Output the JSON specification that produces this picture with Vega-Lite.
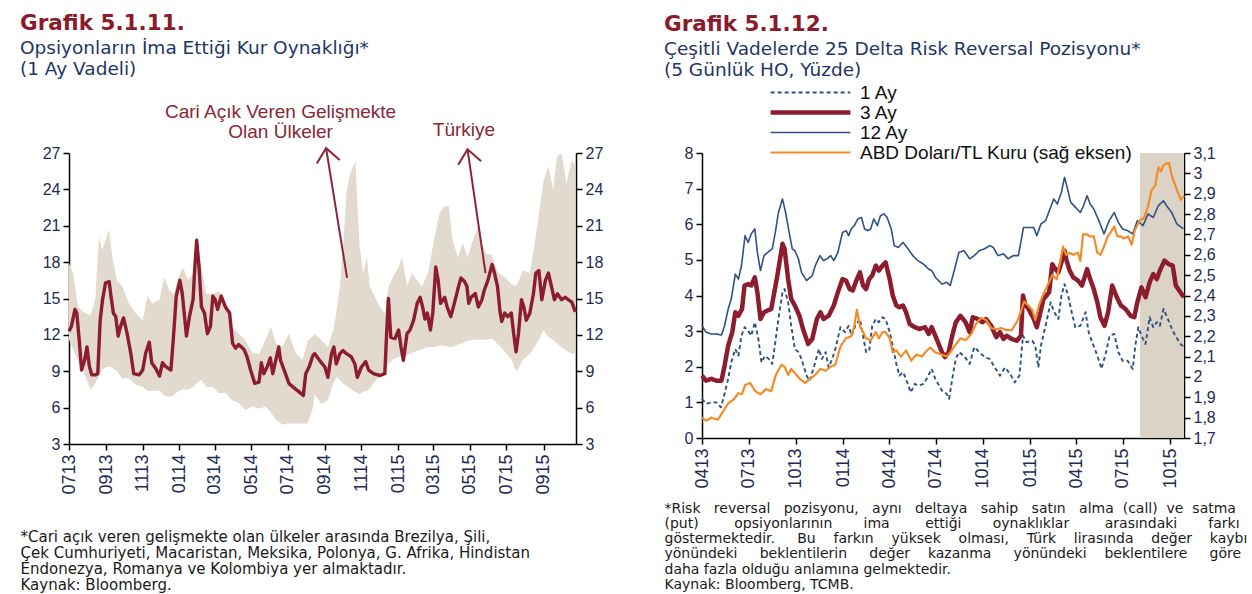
{
"$schema": "https://vega.github.io/schema/vega-lite/v6.json",
"background": "white",
"padding": {"left": 20, "top": 13, "right": 0, "bottom": 0},
"spacing": 61,
"resolve": {"legend": {"color": "independent", "strokeDash": "independent", "strokeWidth": "independent"}},
"config": {
 "view": {"stroke": null},
 "axis": {"grid": false, "domainColor": "#000000", "domainWidth": 1.5, "tickColor": "#000000", "tickWidth": 1.5, "tickSize": 6, "labelColor": "#1f2a55", "labelFont": "Liberation Sans", "labelFontSize": 16, "labelPadding": 3},
 "title": {"anchor": "start", "frame": "bounds", "font": "DejaVu Sans", "fontSize": 21.5, "fontWeight": "bold", "color": "#8B1A2B", "subtitleFont": "DejaVu Sans", "subtitleFontSize": 18.5, "subtitleColor": "#1f3566", "subtitlePadding": 4, "subtitleLineHeight": 21}
},
"datasets": {
 "band": [
  {"d":"2013-07-01","lo":11.6,"hi":17.9},{"d":"2013-07-08","lo":10.8,"hi":17.1},{"d":"2013-07-16","lo":9.9,"hi":14.3},{"d":"2013-07-27","lo":8.8,"hi":13.8},
  {"d":"2013-08-06","lo":7.5,"hi":13.6},{"d":"2013-08-14","lo":8.0,"hi":15.0},{"d":"2013-08-20","lo":8.6,"hi":20.1},{"d":"2013-08-25","lo":9.1,"hi":19.0},
  {"d":"2013-08-31","lo":9.3,"hi":19.8},{"d":"2013-09-06","lo":9.4,"hi":20.7},{"d":"2013-09-11","lo":9.3,"hi":18.5},{"d":"2013-09-19","lo":9.0,"hi":16.5},
  {"d":"2013-09-28","lo":8.4,"hi":16.0},{"d":"2013-10-09","lo":8.4,"hi":14.6},{"d":"2013-10-20","lo":7.9,"hi":13.8},{"d":"2013-11-01","lo":7.7,"hi":13.2},
  {"d":"2013-11-09","lo":7.4,"hi":15.2},{"d":"2013-11-17","lo":7.4,"hi":14.6},{"d":"2013-11-29","lo":7.4,"hi":14.9},{"d":"2013-12-07","lo":7.0,"hi":16.8},
  {"d":"2013-12-15","lo":6.9,"hi":15.7},{"d":"2013-12-23","lo":7.0,"hi":15.4},{"d":"2013-12-29","lo":7.3,"hi":16.5},{"d":"2014-01-07","lo":7.5,"hi":17.6},
  {"d":"2014-01-16","lo":7.5,"hi":16.5},{"d":"2014-01-24","lo":7.7,"hi":17.1},{"d":"2014-01-30","lo":8.0,"hi":20.3},{"d":"2014-02-07","lo":8.3,"hi":17.6},
  {"d":"2014-02-15","lo":7.7,"hi":15.4},{"d":"2014-02-25","lo":7.7,"hi":15.4},{"d":"2014-03-08","lo":7.2,"hi":15.6},{"d":"2014-03-19","lo":7.2,"hi":14.6},
  {"d":"2014-03-30","lo":6.6,"hi":12.7},{"d":"2014-04-10","lo":6.4,"hi":12.1},{"d":"2014-04-21","lo":5.8,"hi":11.6},{"d":"2014-05-03","lo":6.1,"hi":10.5},
  {"d":"2014-05-14","lo":5.9,"hi":10.4},{"d":"2014-05-25","lo":6.1,"hi":11.6},{"d":"2014-06-03","lo":5.6,"hi":12.7},{"d":"2014-06-11","lo":5.0,"hi":11.3},
  {"d":"2014-06-22","lo":4.6,"hi":11.0},{"d":"2014-07-03","lo":4.7,"hi":12.1},{"d":"2014-07-14","lo":4.7,"hi":10.5},{"d":"2014-07-26","lo":4.7,"hi":9.9},
  {"d":"2014-08-03","lo":4.7,"hi":11.5},{"d":"2014-08-12","lo":6.0,"hi":11.9},{"d":"2014-08-15","lo":7.1,"hi":12.1},{"d":"2014-08-26","lo":6.3,"hi":11.6},
  {"d":"2014-09-06","lo":6.6,"hi":11.0},{"d":"2014-09-15","lo":8.0,"hi":12.4},{"d":"2014-09-20","lo":8.5,"hi":13.8},{"d":"2014-09-26","lo":8.3,"hi":16.0},
  {"d":"2014-10-01","lo":8.0,"hi":19.0},{"d":"2014-10-07","lo":7.8,"hi":23.7},{"d":"2014-10-12","lo":7.6,"hi":25.1},{"d":"2014-10-18","lo":7.4,"hi":25.9},
  {"d":"2014-10-22","lo":7.3,"hi":26.3},{"d":"2014-10-25","lo":7.2,"hi":23.1},{"d":"2014-10-29","lo":7.1,"hi":19.3},{"d":"2014-11-04","lo":7.3,"hi":17.1},
  {"d":"2014-11-10","lo":7.4,"hi":18.4},{"d":"2014-11-15","lo":7.6,"hi":16.0},{"d":"2014-11-21","lo":8.0,"hi":15.4},{"d":"2014-11-26","lo":8.3,"hi":14.9},
  {"d":"2014-12-02","lo":8.5,"hi":14.3},{"d":"2014-12-10","lo":9.1,"hi":13.8},{"d":"2014-12-16","lo":9.6,"hi":16.0},{"d":"2014-12-24","lo":10.0,"hi":16.8},
  {"d":"2015-01-02","lo":10.2,"hi":17.6},{"d":"2015-01-08","lo":10.2,"hi":18.4},{"d":"2015-01-16","lo":10.3,"hi":16.0},{"d":"2015-01-24","lo":10.5,"hi":17.1},
  {"d":"2015-02-02","lo":10.7,"hi":16.5},{"d":"2015-02-10","lo":10.8,"hi":16.0},{"d":"2015-02-20","lo":11.0,"hi":17.1},{"d":"2015-03-02","lo":11.0,"hi":19.8},
  {"d":"2015-03-11","lo":11.1,"hi":22.0},{"d":"2015-03-19","lo":11.1,"hi":22.6},{"d":"2015-03-27","lo":11.0,"hi":22.6},{"d":"2015-04-02","lo":11.0,"hi":19.8},
  {"d":"2015-04-11","lo":11.2,"hi":18.4},{"d":"2015-04-19","lo":11.3,"hi":19.6},{"d":"2015-04-27","lo":11.5,"hi":18.4},{"d":"2015-05-06","lo":11.6,"hi":19.8},
  {"d":"2015-05-14","lo":11.6,"hi":20.9},{"d":"2015-05-20","lo":11.6,"hi":19.6},{"d":"2015-05-28","lo":11.6,"hi":18.7},{"d":"2015-06-06","lo":11.7,"hi":18.6},
  {"d":"2015-06-17","lo":11.2,"hi":17.1},{"d":"2015-06-28","lo":10.6,"hi":16.8},{"d":"2015-07-09","lo":10.0,"hi":16.2},{"d":"2015-07-17","lo":9.0,"hi":16.0},
  {"d":"2015-07-22","lo":9.3,"hi":16.5},{"d":"2015-07-28","lo":9.9,"hi":17.3},{"d":"2015-08-09","lo":10.45,"hi":17.1},{"d":"2015-08-17","lo":11.0,"hi":19.6},
  {"d":"2015-08-26","lo":11.8,"hi":22.6},{"d":"2015-09-01","lo":12.4,"hi":24.8},{"d":"2015-09-09","lo":11.8,"hi":25.9},{"d":"2015-09-17","lo":11.6,"hi":24.0},
  {"d":"2015-09-23","lo":11.3,"hi":26.7},{"d":"2015-10-01","lo":11.0,"hi":27.0},{"d":"2015-10-09","lo":10.7,"hi":24.5},{"d":"2015-10-18","lo":10.45,"hi":26.4},
  {"d":"2015-10-24","lo":10.45,"hi":25.9}
 ],
 "tr": [
  {"d":"2013-07-01","v":12.3},{"d":"2013-07-05","v":12.7},{"d":"2013-07-11","v":14.1},{"d":"2013-07-14","v":13.8},{"d":"2013-07-18","v":11.6},
  {"d":"2013-07-22","v":9.1},{"d":"2013-07-27","v":9.9},{"d":"2013-07-31","v":11.0},{"d":"2013-08-04","v":9.4},{"d":"2013-08-08","v":8.7},
  {"d":"2013-08-14","v":8.7},{"d":"2013-08-18","v":8.8},{"d":"2013-08-22","v":13.2},{"d":"2013-08-26","v":14.9},{"d":"2013-08-31","v":16.3},
  {"d":"2013-09-06","v":16.4},{"d":"2013-09-09","v":15.2},{"d":"2013-09-13","v":13.8},{"d":"2013-09-17","v":13.5},{"d":"2013-09-21","v":11.9},
  {"d":"2013-09-25","v":12.7},{"d":"2013-09-30","v":13.4},{"d":"2013-10-06","v":12.1},{"d":"2013-10-12","v":10.5},{"d":"2013-10-17","v":8.8},
  {"d":"2013-10-26","v":8.7},{"d":"2013-11-01","v":9.1},{"d":"2013-11-06","v":10.5},{"d":"2013-11-12","v":11.4},{"d":"2013-11-16","v":9.7},
  {"d":"2013-11-23","v":9.2},{"d":"2013-11-29","v":8.6},{"d":"2013-12-04","v":9.7},{"d":"2013-12-09","v":9.4},{"d":"2013-12-18","v":9.1},
  {"d":"2013-12-22","v":11.6},{"d":"2013-12-27","v":15.2},{"d":"2014-01-02","v":16.5},{"d":"2014-01-06","v":15.4},{"d":"2014-01-13","v":11.9},
  {"d":"2014-01-18","v":13.5},{"d":"2014-01-24","v":14.9},{"d":"2014-01-27","v":17.6},{"d":"2014-01-30","v":19.8},{"d":"2014-02-03","v":17.6},
  {"d":"2014-02-07","v":14.3},{"d":"2014-02-12","v":13.8},{"d":"2014-02-17","v":12.1},{"d":"2014-02-22","v":12.7},{"d":"2014-02-26","v":15.2},
  {"d":"2014-03-02","v":14.9},{"d":"2014-03-06","v":14.1},{"d":"2014-03-12","v":15.2},{"d":"2014-03-19","v":14.3},{"d":"2014-03-26","v":13.8},
  {"d":"2014-03-31","v":11.3},{"d":"2014-04-05","v":10.9},{"d":"2014-04-10","v":11.2},{"d":"2014-04-19","v":10.8},{"d":"2014-04-24","v":10.2},
  {"d":"2014-04-30","v":9.1},{"d":"2014-05-07","v":8.0},{"d":"2014-05-14","v":8.1},{"d":"2014-05-18","v":9.7},{"d":"2014-05-22","v":8.8},
  {"d":"2014-05-28","v":9.4},{"d":"2014-06-02","v":10.1},{"d":"2014-06-06","v":8.8},{"d":"2014-06-11","v":9.9},{"d":"2014-06-16","v":11.0},
  {"d":"2014-06-19","v":9.9},{"d":"2014-06-25","v":9.1},{"d":"2014-07-03","v":8.0},{"d":"2014-07-12","v":7.6},{"d":"2014-07-20","v":7.3},
  {"d":"2014-07-27","v":7.0},{"d":"2014-07-31","v":8.8},{"d":"2014-08-06","v":9.4},{"d":"2014-08-12","v":10.3},{"d":"2014-08-15","v":10.45},
  {"d":"2014-08-23","v":9.9},{"d":"2014-09-01","v":9.35},{"d":"2014-09-06","v":8.5},{"d":"2014-09-12","v":10.45},{"d":"2014-09-16","v":11.0},
  {"d":"2014-09-20","v":9.6},{"d":"2014-09-26","v":10.45},{"d":"2014-10-01","v":10.7},{"d":"2014-10-07","v":10.45},{"d":"2014-10-15","v":10.2},
  {"d":"2014-10-21","v":9.6},{"d":"2014-10-25","v":8.5},{"d":"2014-11-01","v":9.35},{"d":"2014-11-08","v":9.8},{"d":"2014-11-13","v":9.1},
  {"d":"2014-11-21","v":8.8},{"d":"2014-12-02","v":8.65},{"d":"2014-12-10","v":8.8},{"d":"2014-12-13","v":12.1},{"d":"2014-12-16","v":15.0},
  {"d":"2014-12-20","v":11.8},{"d":"2014-12-27","v":11.7},{"d":"2015-01-02","v":12.4},{"d":"2015-01-06","v":11.0},{"d":"2015-01-10","v":9.9},
  {"d":"2015-01-16","v":12.1},{"d":"2015-01-21","v":12.4},{"d":"2015-01-27","v":13.2},{"d":"2015-02-02","v":14.6},{"d":"2015-02-07","v":15.1},
  {"d":"2015-02-11","v":14.3},{"d":"2015-02-15","v":13.3},{"d":"2015-02-19","v":13.8},{"d":"2015-02-24","v":12.4},{"d":"2015-02-28","v":13.8},
  {"d":"2015-03-05","v":17.6},{"d":"2015-03-09","v":16.5},{"d":"2015-03-13","v":14.6},{"d":"2015-03-20","v":15.1},{"d":"2015-03-24","v":14.3},
  {"d":"2015-03-30","v":13.5},{"d":"2015-04-05","v":14.6},{"d":"2015-04-12","v":16.0},{"d":"2015-04-16","v":16.7},{"d":"2015-04-22","v":16.4},
  {"d":"2015-04-26","v":16.0},{"d":"2015-04-29","v":14.6},{"d":"2015-05-03","v":15.1},{"d":"2015-05-10","v":15.4},{"d":"2015-05-15","v":14.3},
  {"d":"2015-05-21","v":14.9},{"d":"2015-05-25","v":15.7},{"d":"2015-05-31","v":16.5},{"d":"2015-06-07","v":17.8},{"d":"2015-06-11","v":17.1},
  {"d":"2015-06-16","v":16.0},{"d":"2015-06-20","v":14.0},{"d":"2015-06-23","v":13.1},{"d":"2015-06-28","v":13.8},{"d":"2015-07-03","v":13.5},
  {"d":"2015-07-09","v":13.8},{"d":"2015-07-13","v":12.1},{"d":"2015-07-17","v":10.6},{"d":"2015-07-21","v":12.1},{"d":"2015-07-26","v":14.9},
  {"d":"2015-07-30","v":14.3},{"d":"2015-08-03","v":13.2},{"d":"2015-08-09","v":13.8},{"d":"2015-08-15","v":15.4},{"d":"2015-08-19","v":17.1},
  {"d":"2015-08-24","v":17.3},{"d":"2015-08-29","v":14.9},{"d":"2015-09-04","v":16.5},{"d":"2015-09-09","v":17.1},{"d":"2015-09-14","v":16.0},
  {"d":"2015-09-19","v":14.9},{"d":"2015-09-24","v":15.4},{"d":"2015-10-01","v":14.9},{"d":"2015-10-07","v":15.1},{"d":"2015-10-12","v":14.9},
  {"d":"2015-10-18","v":14.7},{"d":"2015-10-24","v":13.9}
 ],
 "notes": [
  {"d":"2014-06-19","y":31.1,"t":["Cari Açık Veren Gelişmekte", "Olan Ülkeler"]},
  {"d":"2015-04-21","y":29.6,"t":"Türkiye"}
 ],
 "arrows": [
  {"d":"2014-09-03","y1":27.4,"d2":"2014-10-08","y2":16.7},
  {"d":"2015-04-27","y1":27.3,"d2":"2015-05-27","y2":17.1}
 ],
 "shade": [{"d":"2015-08-03","e":"2015-10-28"}],
 "rr": [
  {"d":"2013-04-01","s":"12 Ay","v":3.15},{"d":"2013-04-09","s":"12 Ay","v":2.97},{"d":"2013-04-19","s":"12 Ay","v":2.92},{"d":"2013-04-29","s":"12 Ay","v":2.92},
  {"d":"2013-05-09","s":"12 Ay","v":2.89},{"d":"2013-05-15","s":"12 Ay","v":3.15},{"d":"2013-05-22","s":"12 Ay","v":3.62},{"d":"2013-05-28","s":"12 Ay","v":3.9},
  {"d":"2013-06-05","s":"12 Ay","v":4.6},{"d":"2013-06-11","s":"12 Ay","v":4.46},{"d":"2013-06-17","s":"12 Ay","v":4.84},{"d":"2013-06-24","s":"12 Ay","v":5.68},
  {"d":"2013-06-30","s":"12 Ay","v":5.49},{"d":"2013-07-06","s":"12 Ay","v":5.73},{"d":"2013-07-13","s":"12 Ay","v":5.87},{"d":"2013-07-18","s":"12 Ay","v":5.21},
  {"d":"2013-07-24","s":"12 Ay","v":4.7},{"d":"2013-07-31","s":"12 Ay","v":5.12},{"d":"2013-08-07","s":"12 Ay","v":5.21},{"d":"2013-08-16","s":"12 Ay","v":5.31},
  {"d":"2013-08-22","s":"12 Ay","v":5.77},{"d":"2013-08-28","s":"12 Ay","v":6.33},{"d":"2013-09-05","s":"12 Ay","v":6.71},{"d":"2013-09-11","s":"12 Ay","v":6.33},
  {"d":"2013-09-18","s":"12 Ay","v":5.77},{"d":"2013-09-24","s":"12 Ay","v":5.31},{"d":"2013-09-29","s":"12 Ay","v":5.26},{"d":"2013-10-06","s":"12 Ay","v":5.03},
  {"d":"2013-10-12","s":"12 Ay","v":4.65},{"d":"2013-10-22","s":"12 Ay","v":4.42},{"d":"2013-11-02","s":"12 Ay","v":4.56},{"d":"2013-11-08","s":"12 Ay","v":4.84},
  {"d":"2013-11-17","s":"12 Ay","v":5.12},{"d":"2013-11-24","s":"12 Ay","v":4.98},{"d":"2013-12-01","s":"12 Ay","v":5.03},{"d":"2013-12-08","s":"12 Ay","v":5.12},
  {"d":"2013-12-14","s":"12 Ay","v":4.98},{"d":"2013-12-22","s":"12 Ay","v":5.21},{"d":"2013-12-31","s":"12 Ay","v":5.77},{"d":"2014-01-07","s":"12 Ay","v":5.82},
  {"d":"2014-01-12","s":"12 Ay","v":5.68},{"d":"2014-01-17","s":"12 Ay","v":5.87},{"d":"2014-01-23","s":"12 Ay","v":5.96},{"d":"2014-01-30","s":"12 Ay","v":6.15},
  {"d":"2014-02-06","s":"12 Ay","v":6.19},{"d":"2014-02-12","s":"12 Ay","v":5.87},{"d":"2014-02-18","s":"12 Ay","v":5.82},{"d":"2014-02-24","s":"12 Ay","v":5.87},
  {"d":"2014-03-02","s":"12 Ay","v":6.15},{"d":"2014-03-09","s":"12 Ay","v":5.96},{"d":"2014-03-15","s":"12 Ay","v":6.24},{"d":"2014-03-22","s":"12 Ay","v":6.29},
  {"d":"2014-03-28","s":"12 Ay","v":6.19},{"d":"2014-04-05","s":"12 Ay","v":5.87},{"d":"2014-04-11","s":"12 Ay","v":5.4},{"d":"2014-04-19","s":"12 Ay","v":5.35},
  {"d":"2014-04-28","s":"12 Ay","v":5.49},{"d":"2014-05-08","s":"12 Ay","v":5.31},{"d":"2014-05-17","s":"12 Ay","v":5.12},{"d":"2014-05-27","s":"12 Ay","v":4.98},
  {"d":"2014-06-07","s":"12 Ay","v":4.88},{"d":"2014-06-17","s":"12 Ay","v":4.74},{"d":"2014-06-23","s":"12 Ay","v":4.7},{"d":"2014-06-30","s":"12 Ay","v":4.51},
  {"d":"2014-07-13","s":"12 Ay","v":4.32},{"d":"2014-07-22","s":"12 Ay","v":4.37},{"d":"2014-07-29","s":"12 Ay","v":4.28},{"d":"2014-08-05","s":"12 Ay","v":4.65},
  {"d":"2014-08-15","s":"12 Ay","v":5.21},{"d":"2014-08-25","s":"12 Ay","v":5.26},{"d":"2014-09-05","s":"12 Ay","v":5.03},{"d":"2014-09-14","s":"12 Ay","v":5.12},
  {"d":"2014-09-24","s":"12 Ay","v":5.26},{"d":"2014-10-04","s":"12 Ay","v":5.31},{"d":"2014-10-14","s":"12 Ay","v":5.4},{"d":"2014-10-21","s":"12 Ay","v":5.35},
  {"d":"2014-10-30","s":"12 Ay","v":5.12},{"d":"2014-11-10","s":"12 Ay","v":5.17},{"d":"2014-11-19","s":"12 Ay","v":5.03},{"d":"2014-11-29","s":"12 Ay","v":5.12},
  {"d":"2014-12-09","s":"12 Ay","v":5.12},{"d":"2014-12-19","s":"12 Ay","v":5.91},{"d":"2014-12-29","s":"12 Ay","v":5.91},{"d":"2015-01-08","s":"12 Ay","v":5.91},
  {"d":"2015-01-14","s":"12 Ay","v":5.68},{"d":"2015-01-22","s":"12 Ay","v":6.01},{"d":"2015-01-31","s":"12 Ay","v":6.1},{"d":"2015-02-10","s":"12 Ay","v":6.48},
  {"d":"2015-02-16","s":"12 Ay","v":6.71},{"d":"2015-02-23","s":"12 Ay","v":6.57},{"d":"2015-03-03","s":"12 Ay","v":6.9},{"d":"2015-03-09","s":"12 Ay","v":7.32},
  {"d":"2015-03-14","s":"12 Ay","v":7.04},{"d":"2015-03-21","s":"12 Ay","v":6.62},{"d":"2015-03-30","s":"12 Ay","v":6.48},{"d":"2015-04-09","s":"12 Ay","v":6.33},
  {"d":"2015-04-15","s":"12 Ay","v":6.52},{"d":"2015-04-22","s":"12 Ay","v":6.8},{"d":"2015-04-28","s":"12 Ay","v":6.57},{"d":"2015-05-05","s":"12 Ay","v":6.43},
  {"d":"2015-05-15","s":"12 Ay","v":6.1},{"d":"2015-05-25","s":"12 Ay","v":5.73},{"d":"2015-06-04","s":"12 Ay","v":6.1},{"d":"2015-06-14","s":"12 Ay","v":6.33},
  {"d":"2015-06-22","s":"12 Ay","v":6.05},{"d":"2015-06-30","s":"12 Ay","v":5.87},{"d":"2015-07-10","s":"12 Ay","v":5.82},{"d":"2015-07-20","s":"12 Ay","v":5.73},
  {"d":"2015-07-29","s":"12 Ay","v":6.1},{"d":"2015-08-09","s":"12 Ay","v":5.96},{"d":"2015-08-19","s":"12 Ay","v":6.29},{"d":"2015-08-29","s":"12 Ay","v":6.19},
  {"d":"2015-09-08","s":"12 Ay","v":6.52},{"d":"2015-09-18","s":"12 Ay","v":6.66},{"d":"2015-09-24","s":"12 Ay","v":6.52},{"d":"2015-10-04","s":"12 Ay","v":6.33},
  {"d":"2015-10-14","s":"12 Ay","v":6.01},{"d":"2015-10-27","s":"12 Ay","v":5.87},

  {"d":"2013-04-01","s":"1 Ay","v":1.1},{"d":"2013-04-09","s":"1 Ay","v":0.96},{"d":"2013-04-19","s":"1 Ay","v":1.0},{"d":"2013-04-29","s":"1 Ay","v":1.0},
  {"d":"2013-05-08","s":"1 Ay","v":0.86},{"d":"2013-05-15","s":"1 Ay","v":1.24},{"d":"2013-05-22","s":"1 Ay","v":1.66},{"d":"2013-05-28","s":"1 Ay","v":2.12},
  {"d":"2013-06-05","s":"1 Ay","v":2.5},{"d":"2013-06-11","s":"1 Ay","v":2.31},{"d":"2013-06-17","s":"1 Ay","v":2.87},{"d":"2013-06-23","s":"1 Ay","v":3.11},
  {"d":"2013-06-30","s":"1 Ay","v":3.01},{"d":"2013-07-06","s":"1 Ay","v":2.87},{"d":"2013-07-13","s":"1 Ay","v":3.25},{"d":"2013-07-20","s":"1 Ay","v":2.78},
  {"d":"2013-07-26","s":"1 Ay","v":2.12},{"d":"2013-08-02","s":"1 Ay","v":2.31},{"d":"2013-08-09","s":"1 Ay","v":2.22},{"d":"2013-08-16","s":"1 Ay","v":2.08},
  {"d":"2013-08-22","s":"1 Ay","v":2.69},{"d":"2013-08-28","s":"1 Ay","v":3.34},{"d":"2013-09-05","s":"1 Ay","v":4.09},{"d":"2013-09-09","s":"1 Ay","v":4.18},
  {"d":"2013-09-16","s":"1 Ay","v":3.81},{"d":"2013-09-22","s":"1 Ay","v":3.15},{"d":"2013-09-29","s":"1 Ay","v":2.5},{"d":"2013-10-06","s":"1 Ay","v":2.41},
  {"d":"2013-10-12","s":"1 Ay","v":2.22},{"d":"2013-10-22","s":"1 Ay","v":1.75},{"d":"2013-10-28","s":"1 Ay","v":1.61},{"d":"2013-11-06","s":"1 Ay","v":2.03},
  {"d":"2013-11-15","s":"1 Ay","v":2.5},{"d":"2013-11-21","s":"1 Ay","v":2.22},{"d":"2013-11-28","s":"1 Ay","v":2.41},{"d":"2013-12-04","s":"1 Ay","v":1.98},
  {"d":"2013-12-11","s":"1 Ay","v":2.22},{"d":"2013-12-17","s":"1 Ay","v":2.5},{"d":"2013-12-27","s":"1 Ay","v":3.11},{"d":"2014-01-05","s":"1 Ay","v":2.97},
  {"d":"2014-01-12","s":"1 Ay","v":3.15},{"d":"2014-01-18","s":"1 Ay","v":2.87},{"d":"2014-01-25","s":"1 Ay","v":3.15},{"d":"2014-02-03","s":"1 Ay","v":3.34},
  {"d":"2014-02-09","s":"1 Ay","v":2.87},{"d":"2014-02-15","s":"1 Ay","v":2.41},{"d":"2014-02-21","s":"1 Ay","v":2.45},{"d":"2014-02-27","s":"1 Ay","v":3.15},
  {"d":"2014-03-06","s":"1 Ay","v":3.34},{"d":"2014-03-12","s":"1 Ay","v":3.25},{"d":"2014-03-19","s":"1 Ay","v":3.39},{"d":"2014-03-25","s":"1 Ay","v":3.34},
  {"d":"2014-04-02","s":"1 Ay","v":2.97},{"d":"2014-04-08","s":"1 Ay","v":2.59},{"d":"2014-04-15","s":"1 Ay","v":2.08},{"d":"2014-04-21","s":"1 Ay","v":1.75},
  {"d":"2014-04-28","s":"1 Ay","v":1.85},{"d":"2014-05-04","s":"1 Ay","v":1.66},{"d":"2014-05-13","s":"1 Ay","v":1.28},{"d":"2014-05-21","s":"1 Ay","v":1.52},
  {"d":"2014-05-28","s":"1 Ay","v":1.47},{"d":"2014-06-07","s":"1 Ay","v":1.52},{"d":"2014-06-13","s":"1 Ay","v":1.66},{"d":"2014-06-23","s":"1 Ay","v":1.94},
  {"d":"2014-06-30","s":"1 Ay","v":1.66},{"d":"2014-07-13","s":"1 Ay","v":1.33},{"d":"2014-07-22","s":"1 Ay","v":1.24},{"d":"2014-07-27","s":"1 Ay","v":1.1},
  {"d":"2014-08-02","s":"1 Ay","v":1.66},{"d":"2014-08-09","s":"1 Ay","v":2.22},{"d":"2014-08-15","s":"1 Ay","v":2.41},{"d":"2014-08-25","s":"1 Ay","v":2.31},
  {"d":"2014-09-05","s":"1 Ay","v":2.08},{"d":"2014-09-14","s":"1 Ay","v":2.55},{"d":"2014-09-24","s":"1 Ay","v":2.41},{"d":"2014-10-04","s":"1 Ay","v":2.27},
  {"d":"2014-10-14","s":"1 Ay","v":2.22},{"d":"2014-10-24","s":"1 Ay","v":1.98},{"d":"2014-11-03","s":"1 Ay","v":1.75},{"d":"2014-11-13","s":"1 Ay","v":1.98},
  {"d":"2014-11-23","s":"1 Ay","v":1.8},{"d":"2014-12-02","s":"1 Ay","v":1.56},{"d":"2014-12-11","s":"1 Ay","v":1.75},{"d":"2014-12-18","s":"1 Ay","v":2.87},
  {"d":"2014-12-25","s":"1 Ay","v":2.69},{"d":"2015-01-05","s":"1 Ay","v":2.73},{"d":"2015-01-11","s":"1 Ay","v":2.59},{"d":"2015-01-17","s":"1 Ay","v":1.98},
  {"d":"2015-01-22","s":"1 Ay","v":2.59},{"d":"2015-01-31","s":"1 Ay","v":3.15},{"d":"2015-02-10","s":"1 Ay","v":3.81},{"d":"2015-02-17","s":"1 Ay","v":3.53},
  {"d":"2015-02-25","s":"1 Ay","v":3.34},{"d":"2015-03-03","s":"1 Ay","v":4.0},{"d":"2015-03-09","s":"1 Ay","v":4.32},{"d":"2015-03-16","s":"1 Ay","v":4.0},
  {"d":"2015-03-23","s":"1 Ay","v":3.53},{"d":"2015-03-30","s":"1 Ay","v":3.11},{"d":"2015-04-09","s":"1 Ay","v":3.15},{"d":"2015-04-19","s":"1 Ay","v":3.53},
  {"d":"2015-04-25","s":"1 Ay","v":2.97},{"d":"2015-05-02","s":"1 Ay","v":2.69},{"d":"2015-05-12","s":"1 Ay","v":2.31},{"d":"2015-05-20","s":"1 Ay","v":1.94},
  {"d":"2015-05-29","s":"1 Ay","v":2.41},{"d":"2015-06-05","s":"1 Ay","v":2.87},{"d":"2015-06-14","s":"1 Ay","v":2.92},{"d":"2015-06-22","s":"1 Ay","v":2.41},
  {"d":"2015-06-30","s":"1 Ay","v":2.17},{"d":"2015-07-10","s":"1 Ay","v":2.17},{"d":"2015-07-20","s":"1 Ay","v":1.94},{"d":"2015-07-25","s":"1 Ay","v":2.59},
  {"d":"2015-07-31","s":"1 Ay","v":3.11},{"d":"2015-08-06","s":"1 Ay","v":2.87},{"d":"2015-08-14","s":"1 Ay","v":2.64},{"d":"2015-08-22","s":"1 Ay","v":3.39},
  {"d":"2015-08-29","s":"1 Ay","v":3.11},{"d":"2015-09-05","s":"1 Ay","v":3.25},{"d":"2015-09-11","s":"1 Ay","v":3.15},{"d":"2015-09-18","s":"1 Ay","v":3.62},
  {"d":"2015-09-24","s":"1 Ay","v":3.43},{"d":"2015-10-03","s":"1 Ay","v":3.11},{"d":"2015-10-11","s":"1 Ay","v":2.87},{"d":"2015-10-21","s":"1 Ay","v":2.64},
  {"d":"2015-10-28","s":"1 Ay","v":2.55},

  {"d":"2013-04-01","s":"3 Ay","v":1.75},{"d":"2013-04-09","s":"3 Ay","v":1.61},{"d":"2013-04-19","s":"3 Ay","v":1.66},{"d":"2013-04-29","s":"3 Ay","v":1.61},
  {"d":"2013-05-09","s":"3 Ay","v":1.61},{"d":"2013-05-15","s":"3 Ay","v":2.03},{"d":"2013-05-22","s":"3 Ay","v":2.59},{"d":"2013-05-30","s":"3 Ay","v":2.97},
  {"d":"2013-06-05","s":"3 Ay","v":3.53},{"d":"2013-06-11","s":"3 Ay","v":3.43},{"d":"2013-06-18","s":"3 Ay","v":3.62},{"d":"2013-06-23","s":"3 Ay","v":4.28},
  {"d":"2013-06-30","s":"3 Ay","v":4.32},{"d":"2013-07-06","s":"3 Ay","v":4.28},{"d":"2013-07-13","s":"3 Ay","v":4.51},{"d":"2013-07-18","s":"3 Ay","v":4.09},
  {"d":"2013-07-24","s":"3 Ay","v":3.34},{"d":"2013-07-31","s":"3 Ay","v":3.53},{"d":"2013-08-07","s":"3 Ay","v":3.58},{"d":"2013-08-14","s":"3 Ay","v":3.62},
  {"d":"2013-08-20","s":"3 Ay","v":4.09},{"d":"2013-08-26","s":"3 Ay","v":4.56},{"d":"2013-09-05","s":"3 Ay","v":5.45},{"d":"2013-09-09","s":"3 Ay","v":5.31},
  {"d":"2013-09-16","s":"3 Ay","v":4.46},{"d":"2013-09-22","s":"3 Ay","v":3.9},{"d":"2013-09-29","s":"3 Ay","v":3.72},{"d":"2013-10-08","s":"3 Ay","v":3.43},
  {"d":"2013-10-15","s":"3 Ay","v":3.06},{"d":"2013-10-25","s":"3 Ay","v":2.64},{"d":"2013-11-02","s":"3 Ay","v":2.78},{"d":"2013-11-11","s":"3 Ay","v":3.34},
  {"d":"2013-11-18","s":"3 Ay","v":3.53},{"d":"2013-11-24","s":"3 Ay","v":3.34},{"d":"2013-12-04","s":"3 Ay","v":3.43},{"d":"2013-12-14","s":"3 Ay","v":3.72},
  {"d":"2013-12-22","s":"3 Ay","v":4.09},{"d":"2013-12-31","s":"3 Ay","v":4.46},{"d":"2014-01-07","s":"3 Ay","v":4.42},{"d":"2014-01-14","s":"3 Ay","v":4.18},
  {"d":"2014-01-20","s":"3 Ay","v":4.14},{"d":"2014-01-27","s":"3 Ay","v":4.42},{"d":"2014-02-03","s":"3 Ay","v":4.65},{"d":"2014-02-09","s":"3 Ay","v":4.28},
  {"d":"2014-02-15","s":"3 Ay","v":4.18},{"d":"2014-02-21","s":"3 Ay","v":4.46},{"d":"2014-02-27","s":"3 Ay","v":4.56},{"d":"2014-03-06","s":"3 Ay","v":4.84},
  {"d":"2014-03-12","s":"3 Ay","v":4.7},{"d":"2014-03-19","s":"3 Ay","v":4.84},{"d":"2014-03-25","s":"3 Ay","v":4.93},{"d":"2014-04-02","s":"3 Ay","v":4.46},
  {"d":"2014-04-08","s":"3 Ay","v":4.0},{"d":"2014-04-15","s":"3 Ay","v":3.72},{"d":"2014-04-21","s":"3 Ay","v":3.67},{"d":"2014-04-28","s":"3 Ay","v":3.72},
  {"d":"2014-05-04","s":"3 Ay","v":3.53},{"d":"2014-05-11","s":"3 Ay","v":3.2},{"d":"2014-05-21","s":"3 Ay","v":3.11},{"d":"2014-05-30","s":"3 Ay","v":3.06},
  {"d":"2014-06-10","s":"3 Ay","v":3.11},{"d":"2014-06-17","s":"3 Ay","v":2.92},{"d":"2014-06-23","s":"3 Ay","v":3.11},{"d":"2014-06-30","s":"3 Ay","v":2.87},
  {"d":"2014-07-13","s":"3 Ay","v":2.41},{"d":"2014-07-19","s":"3 Ay","v":2.27},{"d":"2014-07-26","s":"3 Ay","v":2.41},{"d":"2014-08-02","s":"3 Ay","v":2.87},
  {"d":"2014-08-09","s":"3 Ay","v":3.25},{"d":"2014-08-18","s":"3 Ay","v":3.43},{"d":"2014-08-28","s":"3 Ay","v":3.25},{"d":"2014-09-05","s":"3 Ay","v":2.97},
  {"d":"2014-09-11","s":"3 Ay","v":3.39},{"d":"2014-09-21","s":"3 Ay","v":3.34},{"d":"2014-09-30","s":"3 Ay","v":3.25},{"d":"2014-10-07","s":"3 Ay","v":3.34},
  {"d":"2014-10-17","s":"3 Ay","v":3.15},{"d":"2014-10-27","s":"3 Ay","v":2.83},{"d":"2014-11-03","s":"3 Ay","v":2.97},{"d":"2014-11-10","s":"3 Ay","v":2.78},
  {"d":"2014-11-16","s":"3 Ay","v":2.87},{"d":"2014-11-26","s":"3 Ay","v":2.78},{"d":"2014-12-06","s":"3 Ay","v":2.73},{"d":"2014-12-14","s":"3 Ay","v":2.87},
  {"d":"2014-12-18","s":"3 Ay","v":4.0},{"d":"2014-12-22","s":"3 Ay","v":3.76},{"d":"2014-12-29","s":"3 Ay","v":3.62},{"d":"2015-01-08","s":"3 Ay","v":3.34},
  {"d":"2015-01-14","s":"3 Ay","v":3.11},{"d":"2015-01-21","s":"3 Ay","v":3.53},{"d":"2015-01-27","s":"3 Ay","v":3.9},{"d":"2015-02-07","s":"3 Ay","v":4.09},
  {"d":"2015-02-13","s":"3 Ay","v":4.88},{"d":"2015-02-19","s":"3 Ay","v":4.74},{"d":"2015-02-25","s":"3 Ay","v":4.65},{"d":"2015-03-03","s":"3 Ay","v":4.93},
  {"d":"2015-03-09","s":"3 Ay","v":5.26},{"d":"2015-03-13","s":"3 Ay","v":4.98},{"d":"2015-03-19","s":"3 Ay","v":4.7},{"d":"2015-03-26","s":"3 Ay","v":4.51},
  {"d":"2015-04-04","s":"3 Ay","v":4.42},{"d":"2015-04-12","s":"3 Ay","v":4.28},{"d":"2015-04-22","s":"3 Ay","v":4.74},{"d":"2015-04-28","s":"3 Ay","v":4.46},
  {"d":"2015-05-05","s":"3 Ay","v":4.18},{"d":"2015-05-12","s":"3 Ay","v":3.81},{"d":"2015-05-18","s":"3 Ay","v":3.39},{"d":"2015-05-26","s":"3 Ay","v":3.15},
  {"d":"2015-06-02","s":"3 Ay","v":3.53},{"d":"2015-06-10","s":"3 Ay","v":4.28},{"d":"2015-06-19","s":"3 Ay","v":3.95},{"d":"2015-06-27","s":"3 Ay","v":3.72},
  {"d":"2015-07-06","s":"3 Ay","v":3.62},{"d":"2015-07-16","s":"3 Ay","v":3.43},{"d":"2015-07-23","s":"3 Ay","v":3.39},{"d":"2015-07-29","s":"3 Ay","v":3.81},
  {"d":"2015-08-06","s":"3 Ay","v":4.23},{"d":"2015-08-14","s":"3 Ay","v":3.95},{"d":"2015-08-22","s":"3 Ay","v":4.37},{"d":"2015-08-29","s":"3 Ay","v":4.6},
  {"d":"2015-09-05","s":"3 Ay","v":4.46},{"d":"2015-09-11","s":"3 Ay","v":4.7},{"d":"2015-09-20","s":"3 Ay","v":4.98},{"d":"2015-09-28","s":"3 Ay","v":4.88},
  {"d":"2015-10-06","s":"3 Ay","v":4.84},{"d":"2015-10-12","s":"3 Ay","v":4.28},{"d":"2015-10-21","s":"3 Ay","v":4.09},{"d":"2015-10-28","s":"3 Ay","v":3.95},

  {"d":"2013-04-01","s":"USD","v":1.8},{"d":"2013-04-09","s":"USD","v":1.785},{"d":"2013-04-19","s":"USD","v":1.8},{"d":"2013-05-02","s":"USD","v":1.79},
  {"d":"2013-05-12","s":"USD","v":1.83},{"d":"2013-05-22","s":"USD","v":1.87},{"d":"2013-06-02","s":"USD","v":1.89},{"d":"2013-06-11","s":"USD","v":1.92},
  {"d":"2013-06-18","s":"USD","v":1.915},{"d":"2013-06-24","s":"USD","v":1.96},{"d":"2013-07-04","s":"USD","v":1.97},{"d":"2013-07-14","s":"USD","v":1.93},
  {"d":"2013-07-24","s":"USD","v":1.915},{"d":"2013-08-04","s":"USD","v":1.94},{"d":"2013-08-14","s":"USD","v":1.93},{"d":"2013-08-23","s":"USD","v":2.01},
  {"d":"2013-09-03","s":"USD","v":2.06},{"d":"2013-09-09","s":"USD","v":2.05},{"d":"2013-09-16","s":"USD","v":2.01},{"d":"2013-09-22","s":"USD","v":2.04},
  {"d":"2013-09-29","s":"USD","v":2.02},{"d":"2013-10-09","s":"USD","v":1.99},{"d":"2013-10-19","s":"USD","v":1.97},{"d":"2013-10-28","s":"USD","v":1.99},
  {"d":"2013-11-08","s":"USD","v":2.01},{"d":"2013-11-18","s":"USD","v":2.04},{"d":"2013-11-28","s":"USD","v":2.03},{"d":"2013-12-08","s":"USD","v":2.05},
  {"d":"2013-12-17","s":"USD","v":2.06},{"d":"2013-12-27","s":"USD","v":2.15},{"d":"2014-01-07","s":"USD","v":2.19},{"d":"2014-01-17","s":"USD","v":2.2},
  {"d":"2014-01-23","s":"USD","v":2.25},{"d":"2014-01-28","s":"USD","v":2.33},{"d":"2014-02-03","s":"USD","v":2.25},{"d":"2014-02-09","s":"USD","v":2.22},
  {"d":"2014-02-15","s":"USD","v":2.19},{"d":"2014-02-24","s":"USD","v":2.18},{"d":"2014-03-06","s":"USD","v":2.22},{"d":"2014-03-12","s":"USD","v":2.19},
  {"d":"2014-03-19","s":"USD","v":2.22},{"d":"2014-03-25","s":"USD","v":2.22},{"d":"2014-04-02","s":"USD","v":2.19},{"d":"2014-04-08","s":"USD","v":2.12},
  {"d":"2014-04-15","s":"USD","v":2.13},{"d":"2014-04-24","s":"USD","v":2.1},{"d":"2014-05-04","s":"USD","v":2.13},{"d":"2014-05-14","s":"USD","v":2.08},
  {"d":"2014-05-24","s":"USD","v":2.11},{"d":"2014-06-04","s":"USD","v":2.1},{"d":"2014-06-10","s":"USD","v":2.12},{"d":"2014-06-20","s":"USD","v":2.145},
  {"d":"2014-06-30","s":"USD","v":2.12},{"d":"2014-07-13","s":"USD","v":2.11},{"d":"2014-07-22","s":"USD","v":2.1},{"d":"2014-07-29","s":"USD","v":2.12},
  {"d":"2014-08-09","s":"USD","v":2.16},{"d":"2014-08-18","s":"USD","v":2.19},{"d":"2014-08-28","s":"USD","v":2.18},{"d":"2014-09-08","s":"USD","v":2.21},
  {"d":"2014-09-17","s":"USD","v":2.26},{"d":"2014-09-27","s":"USD","v":2.29},{"d":"2014-10-07","s":"USD","v":2.28},{"d":"2014-10-17","s":"USD","v":2.24},
  {"d":"2014-10-27","s":"USD","v":2.235},{"d":"2014-11-06","s":"USD","v":2.24},{"d":"2014-11-16","s":"USD","v":2.23},{"d":"2014-11-26","s":"USD","v":2.23},
  {"d":"2014-12-06","s":"USD","v":2.27},{"d":"2014-12-14","s":"USD","v":2.32},{"d":"2014-12-20","s":"USD","v":2.37},{"d":"2014-12-29","s":"USD","v":2.35},
  {"d":"2015-01-05","s":"USD","v":2.33},{"d":"2015-01-11","s":"USD","v":2.28},{"d":"2015-01-18","s":"USD","v":2.35},{"d":"2015-01-24","s":"USD","v":2.39},
  {"d":"2015-02-04","s":"USD","v":2.45},{"d":"2015-02-13","s":"USD","v":2.5},{"d":"2015-02-22","s":"USD","v":2.48},{"d":"2015-02-28","s":"USD","v":2.56},
  {"d":"2015-03-06","s":"USD","v":2.64},{"d":"2015-03-12","s":"USD","v":2.6},{"d":"2015-03-19","s":"USD","v":2.61},{"d":"2015-03-26","s":"USD","v":2.6},
  {"d":"2015-04-04","s":"USD","v":2.61},{"d":"2015-04-09","s":"USD","v":2.57},{"d":"2015-04-14","s":"USD","v":2.7},{"d":"2015-04-22","s":"USD","v":2.7},
  {"d":"2015-04-28","s":"USD","v":2.69},{"d":"2015-05-05","s":"USD","v":2.69},{"d":"2015-05-12","s":"USD","v":2.61},{"d":"2015-05-18","s":"USD","v":2.6},
  {"d":"2015-05-25","s":"USD","v":2.64},{"d":"2015-06-01","s":"USD","v":2.69},{"d":"2015-06-07","s":"USD","v":2.71},{"d":"2015-06-14","s":"USD","v":2.74},
  {"d":"2015-06-20","s":"USD","v":2.69},{"d":"2015-06-27","s":"USD","v":2.69},{"d":"2015-07-03","s":"USD","v":2.68},{"d":"2015-07-11","s":"USD","v":2.69},
  {"d":"2015-07-18","s":"USD","v":2.65},{"d":"2015-07-24","s":"USD","v":2.72},{"d":"2015-08-03","s":"USD","v":2.77},{"d":"2015-08-11","s":"USD","v":2.78},
  {"d":"2015-08-19","s":"USD","v":2.84},{"d":"2015-08-26","s":"USD","v":2.92},{"d":"2015-09-02","s":"USD","v":2.94},{"d":"2015-09-08","s":"USD","v":3.03},
  {"d":"2015-09-13","s":"USD","v":3.01},{"d":"2015-09-18","s":"USD","v":3.04},{"d":"2015-09-24","s":"USD","v":3.05},{"d":"2015-09-29","s":"USD","v":3.05},
  {"d":"2015-10-04","s":"USD","v":2.99},{"d":"2015-10-11","s":"USD","v":2.94},{"d":"2015-10-17","s":"USD","v":2.9},{"d":"2015-10-22","s":"USD","v":2.87},
  {"d":"2015-10-28","s":"USD","v":2.89}
 ]
},
"hconcat": [
 {
  "width": 507, "height": 291,
  "title": {"text": "Grafik 5.1.11.", "subtitle": ["Opsiyonların İma Ettiği Kur Oynaklığı*", "(1 Ay Vadeli)"], "offset": 25},
  "encoding": {
   "x": {"field": "d", "type": "temporal",
    "scale": {"type": "utc", "domain": [{"year": 2013, "month": 7, "date": 1, "utc": true}, {"year": 2015, "month": 10, "date": 25, "utc": true}]},
    "axis": {"format": "%m%y", "tickCount": {"interval": "month", "step": 2}, "labelAngle": -90, "labelFontSize": 18, "labelOverlap": false, "labelFlush": false, "labelPadding": 4,
     "title": ["*Cari açık veren gelişmekte olan ülkeler arasında Brezilya, Şili,", "Çek Cumhuriyeti, Macaristan, Meksika, Polonya, G. Afrika, Hindistan", "Endonezya, Romanya ve Kolombiya yer almaktadır.", "Kaynak: Bloomberg."],
     "titleFont": "DejaVu Sans", "titleFontSize": 15, "titleFontWeight": "normal", "titleColor": "#1a1a1a", "titleAnchor": "start", "titleAlign": "left", "titleBaseline": "top", "titleX": -49, "titleY": 85, "titleLineHeight": 16.2}}
  },
  "layer": [
   {"data": {"name": "band"}, "mark": {"type": "area", "color": "#E3DACF"},
    "encoding": {"y": {"field": "lo", "type": "quantitative", "scale": {"domain": [3, 27]}, "axis": {"orient": "left", "values": [3, 6, 9, 12, 15, 18, 21, 24, 27], "title": null}}, "y2": {"field": "hi"}}},
   {"data": {"name": "tr"}, "mark": {"type": "line", "color": "#8C1D2F", "strokeWidth": 3.4, "strokeJoin": "round"},
    "encoding": {"y": {"field": "v", "type": "quantitative", "scale": {"domain": [3, 27]}, "axis": {"orient": "right", "values": [3, 6, 9, 12, 15, 18, 21, 24, 27], "title": null}}}},
   {"data": {"name": "arrows"}, "mark": {"type": "rule", "color": "#8B2635", "strokeWidth": 2},
    "encoding": {"x2": {"field": "d2"}, "y": {"field": "y1", "type": "quantitative", "scale": {"domain": [3, 27]}, "axis": null}, "y2": {"field": "y2"}}},
   {"data": {"name": "arrows"}, "mark": {"type": "point", "shape": "M-0.84,1L0,0L0.84,1", "filled": false, "size": 760, "angle": -9, "color": "#8B2635", "strokeWidth": 2, "opacity": 1},
    "encoding": {"y": {"field": "y1", "type": "quantitative", "scale": {"domain": [3, 27]}, "axis": null}}},
   {"data": {"name": "notes"}, "mark": {"type": "text", "font": "Liberation Sans", "fontSize": 19, "lineHeight": 20, "color": "#8B2635", "align": "center", "baseline": "top"},
    "encoding": {"y": {"field": "y", "type": "quantitative", "scale": {"domain": [3, 27]}, "axis": null}, "text": {"field": "t"}}}
  ],
  "resolve": {"axis": {"y": "independent"}}
 },
 {
  "width": 482, "height": 285,
  "title": {"text": "Grafik 5.1.12.", "subtitle": ["Çeşitli Vadelerde 25 Delta Risk Reversal Pozisyonu*", "(5 Günlük HO, Yüzde)"], "offset": 4},
  "encoding": {
   "x": {"field": "d", "type": "temporal",
    "scale": {"type": "utc", "domain": [{"year": 2013, "month": 4, "date": 1, "utc": true}, {"year": 2015, "month": 10, "date": 28, "utc": true}]},
    "axis": {"format": "%m%y", "tickCount": {"interval": "month", "step": 3}, "labelAngle": -90, "labelFontSize": 18, "labelOverlap": false, "labelFlush": false, "labelPadding": 4,
     "title": [
      "*Risk\u00a0\u00a0 reversal\u00a0\u00a0 pozisyonu,\u00a0\u00a0 aynı\u00a0\u00a0 deltaya\u00a0\u00a0 sahip\u00a0\u00a0 satın\u00a0\u00a0 alma\u00a0 (call)\u00a0 ve\u00a0 satma",
      "(put)\u00a0\u00a0\u00a0\u00a0\u00a0\u00a0\u00a0 opsiyonlarının\u00a0\u00a0\u00a0\u00a0\u00a0\u00a0 ima\u00a0\u00a0\u00a0\u00a0\u00a0\u00a0\u00a0 ettiği\u00a0\u00a0\u00a0\u00a0\u00a0\u00a0 oynaklıklar\u00a0\u00a0\u00a0\u00a0\u00a0\u00a0\u00a0 arasındaki\u00a0\u00a0\u00a0\u00a0\u00a0\u00a0 farkı",
      "göstermektedir.\u00a0\u00a0\u00a0\u00a0 Bu\u00a0\u00a0\u00a0 farkın\u00a0\u00a0\u00a0 yüksek\u00a0\u00a0\u00a0 olması,\u00a0\u00a0\u00a0 Türk\u00a0\u00a0\u00a0 lirasında\u00a0\u00a0\u00a0 değer\u00a0\u00a0\u00a0 kaybı",
      "yönündeki\u00a0\u00a0\u00a0\u00a0 beklentilerin\u00a0\u00a0\u00a0\u00a0 değer\u00a0\u00a0\u00a0 kazanma\u00a0\u00a0\u00a0\u00a0 yönündeki\u00a0\u00a0\u00a0 beklentilere\u00a0\u00a0\u00a0\u00a0 göre",
      "daha fazla olduğu anlamına gelmektedir.",
      "Kaynak: Bloomberg, TCMB."],
     "titleFont": "DejaVu Sans", "titleFontSize": 14, "titleFontWeight": "normal", "titleColor": "#1a1a1a", "titleAnchor": "start", "titleAlign": "left", "titleBaseline": "top", "titleX": -38, "titleY": 63, "titleLineHeight": 15.3}}
  },
  "layer": [
   {"data": {"name": "shade"}, "mark": {"type": "rect", "color": "#DCD3C7"}, "encoding": {"x2": {"field": "e"}}},
   {"data": {"name": "rr"}, "transform": [{"filter": "datum.s != 'USD'"}], "mark": {"type": "line", "strokeJoin": "round"},
    "encoding": {
     "y": {"field": "v", "type": "quantitative", "scale": {"domain": [0, 8]}, "axis": {"orient": "left", "values": [0, 1, 2, 3, 4, 5, 6, 7, 8], "title": null}},
     "color": {"field": "s", "type": "nominal", "scale": {"domain": ["1 Ay", "3 Ay", "12 Ay", "USD"], "range": ["#2F5185", "#8C1D2F", "#2F5185", "#F28C28"]},
      "legend": {"orient": "none", "legendX": 99, "legendY": -70, "title": null, "padding": 0, "symbolType": "M-5.7,0L5.7,0", "symbolSize": 196, "labelFont": "Liberation Sans", "labelFontSize": 19, "labelColor": "#111111", "labelOffset": 40, "labelLimit": 0, "rowPadding": 0, "labelExpr": "datum.label == 'USD' ? 'ABD Doları/TL Kuru (sağ eksen)' : datum.label"}},
     "strokeDash": {"field": "s", "type": "nominal", "scale": {"domain": ["1 Ay", "3 Ay", "12 Ay", "USD"], "range": [[4, 3], [1, 0], [1, 0], [1, 0]]}},
     "strokeWidth": {"field": "s", "type": "nominal", "scale": {"type": "ordinal", "domain": ["1 Ay", "3 Ay", "12 Ay", "USD"], "range": [1.9, 4.5, 1.6, 2.2]}}
    }},
   {"data": {"name": "rr"}, "transform": [{"filter": "datum.s == 'USD'"}], "mark": {"type": "line", "strokeJoin": "round"},
    "encoding": {
     "y": {"field": "v", "type": "quantitative", "scale": {"domain": [1.7, 3.1]}, "axis": {"orient": "right", "values": [1.7, 1.8, 1.9, 2, 2.1, 2.2, 2.3, 2.4, 2.5, 2.6, 2.7, 2.8, 2.9, 3, 3.1], "title": null, "labelExpr": "replace('' + datum.value, '.', ',')"}},
     "color": {"field": "s", "type": "nominal", "scale": {"domain": ["1 Ay", "3 Ay", "12 Ay", "USD"], "range": ["#2F5185", "#8C1D2F", "#2F5185", "#F28C28"]}},
     "strokeDash": {"field": "s", "type": "nominal", "scale": {"domain": ["1 Ay", "3 Ay", "12 Ay", "USD"], "range": [[4, 3], [1, 0], [1, 0], [1, 0]]}},
     "strokeWidth": {"field": "s", "type": "nominal", "scale": {"type": "ordinal", "domain": ["1 Ay", "3 Ay", "12 Ay", "USD"], "range": [1.9, 4.5, 1.6, 2.2]}}
    }}
  ],
  "resolve": {"scale": {"y": "independent"}}
 }
]
}
